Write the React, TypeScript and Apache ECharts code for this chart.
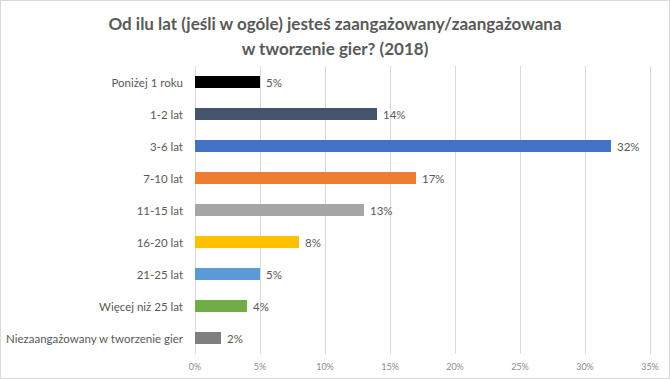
import React, { useEffect, useRef } from "react";
import * as echarts from "echarts";

const categories = [
  "Poniżej 1 roku",
  "1-2 lat",
  "3-6 lat",
  "7-10 lat",
  "11-15 lat",
  "16-20 lat",
  "21-25 lat",
  "Więcej niż 25 lat",
  "Niezaangażowany w tworzenie gier",
];
const values = [5, 14, 32, 17, 13, 8, 5, 4, 2];
const colors = [
  "#000000",
  "#44546A",
  "#4472C4",
  "#ED7D31",
  "#A5A5A5",
  "#FFC000",
  "#5B9BD5",
  "#70AD47",
  "#7F7F7F",
];
const titleText = "Od ilu lat (jeśli w ogóle) jesteś zaangażowany/zaangażowana\nw tworzenie gier? (2018)";

export default function App() {
  const ref = useRef<HTMLDivElement>(null);
  useEffect(() => {
    document.body.style.margin = "0";
    const chart = echarts.init(ref.current!, null, { renderer: "svg" });
    chart.setOption({
      animation: false,
      title: {
        text: titleText,
        left: "center",
        top: 6,
        textStyle: {
          fontFamily: "Lato",
          fontSize: 17,
          fontWeight: "bold",
          color: "#595959",
          lineHeight: 25,
        },
      },
      grid: { left: 195, right: 20, top: 66, bottom: 25, containLabel: false },
      xAxis: {
        type: "value",
        min: 0,
        max: 35,
        interval: 5,
        axisLine: { show: false },
        axisTick: { show: false },
        splitLine: { lineStyle: { color: "#d9d9d9", width: 1 } },
        axisLabel: {
          formatter: "{value}%",
          color: "#8c8c8c",
          fontSize: 9,
          fontFamily: "Lato",
          margin: 8,
        },
      },
      yAxis: {
        type: "category",
        data: categories,
        inverse: true,
        axisLine: { show: false },
        axisTick: { show: false },
        axisLabel: {
          color: "#595959",
          fontSize: 11.5,
          fontFamily: "Lato",
          margin: 12,
        },
      },
      series: [
        {
          type: "bar",
          barWidth: 12,
          data: values.map((v, i) => ({ value: v, itemStyle: { color: colors[i] } })),
          label: {
            show: true,
            position: "right",
            formatter: "{c}%",
            color: "#595959",
            fontSize: 11.5,
            fontFamily: "Lato",
            distance: 6,
          },
        },
      ],
    });
    return () => chart.dispose();
  }, []);
  return (
    <div style={{ position: "absolute", left: 0, top: 0, width: 670, height: 379, background: "#fff" }}>
      <div ref={ref} style={{ position: "absolute", left: 0, top: 0, width: 670, height: 379 }} />
      <div
        style={{
          position: "absolute",
          left: 0,
          top: 0,
          width: 670,
          height: 379,
          boxSizing: "border-box",
          border: "1px solid #d9d9d9",
          pointerEvents: "none",
        }}
      />
    </div>
  );
}
